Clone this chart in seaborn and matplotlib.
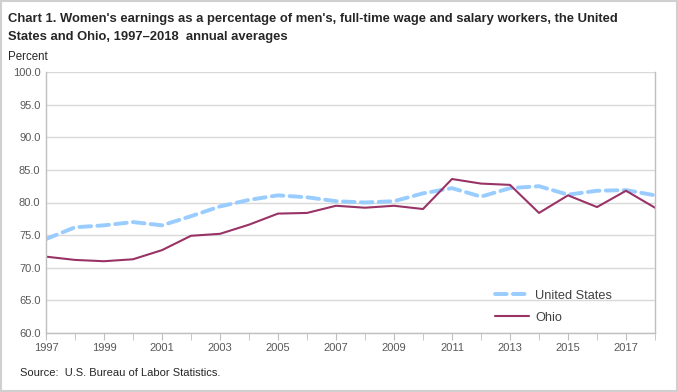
import matplotlib
matplotlib.use("Agg")
import matplotlib.pyplot as plt
import seaborn as sns
import pandas as pd
from matplotlib.patches import Rectangle

# datos (promedios anuales, %)
anios = list(range(1997, 2019))
estados_unidos = [74.4, 76.2, 76.5, 77.0, 76.5, 77.9, 79.4, 80.4, 81.1, 80.8, 80.2,
                  80.0, 80.2, 81.4, 82.2, 80.9, 82.2, 82.5, 81.2, 81.8, 81.9, 81.1]
ohio = [71.7, 71.2, 71.0, 71.3, 72.7, 74.9, 75.2, 76.6, 78.3, 78.4, 79.5,
        79.2, 79.5, 79.0, 83.6, 82.9, 82.7, 78.4, 81.1, 79.3, 81.8, 79.2]
series = ["United States", "Ohio"]
colores = {"United States": "#99CCFF", "Ohio": "#993366"}
y_ticks = [60, 65, 70, 75, 80, 85, 90, 95, 100]
x_labels = list(range(1997, 2019, 2))

df = pd.DataFrame({
    "anio": anios * 2,
    "valor": estados_unidos + ohio,
    "serie": [series[0]] * len(anios) + [series[1]] * len(anios),
})

sns.set_style("white")
plt.rcParams["font.family"] = ["Liberation Sans", "DejaVu Sans"]

fig = plt.figure(figsize=(6.78, 3.92), dpi=100)
ax = fig.add_axes([46 / 678, 59 / 392, 609 / 678, 261 / 392])

sns.lineplot(data=df, x="anio", y="valor", hue="serie", hue_order=series,
             palette=colores, ax=ax, legend=False, sort=False)
ax.lines[0].set_linewidth(2.8)
ax.lines[0].set_dashes((3, 1.6))
ax.lines[0].set_dash_capstyle("round")
ax.lines[1].set_linewidth(1.5)

ax.set_xlim(1997, 2018)
ax.set_ylim(60, 100)
ax.set_yticks(y_ticks)
ax.set_yticklabels([f"{v:.1f}" for v in y_ticks])
ax.set_xticks(anios, minor=True)
ax.set_xticks(x_labels)
ax.set_xticklabels([str(a) for a in x_labels])
ax.set_xlabel("")
ax.set_ylabel("")
ax.grid(axis="y", color="#D9D9D9", linewidth=1)
for s in ax.spines.values():
    s.set_color("#BFBFBF")
    s.set_linewidth(1)
ax.spines["top"].set_visible(False)
ax.tick_params(axis="y", length=0, labelsize=8, labelcolor="#595959", pad=4)
ax.tick_params(axis="x", which="both", length=5, color="#BFBFBF", labelsize=8,
               labelcolor="#595959", direction="out", bottom=True, pad=2)

# leyenda manual dentro del area
ax.plot([], [], color=colores["United States"], linewidth=2.8, dashes=(3, 1.6),
        dash_capstyle="round", label="United States")
ax.plot([], [], color=colores["Ohio"], linewidth=1.5, label="Ohio")
ax.legend(loc="upper left", bbox_to_anchor=(0.738, 0.166), frameon=False,
          borderpad=0, borderaxespad=0, handletextpad=0.5,
          fontsize=9.2, handlelength=2.6, labelspacing=0.8, labelcolor="#404040")

fig.text(8 / 678, 1 - 19 / 392,
         "Chart 1. Women's earnings as a percentage of men's, full-time wage and salary workers, the United",
         fontsize=9.4, fontweight="bold", va="center", ha="left")
fig.text(8 / 678, 1 - 37 / 392, "States and Ohio, 1997–2018  annual averages",
         fontsize=9.4, fontweight="bold", va="center", ha="left")
fig.text(8 / 678, 1 - 57 / 392, "Percent", fontsize=8.3, va="center", ha="left")
fig.text(20 / 678, 1 - 373 / 392, "Source:  U.S. Bureau of Labor Statistics.",
         fontsize=8, va="center", ha="left")

fig.patches.append(Rectangle((0.001, 0.002), 0.997, 0.996, transform=fig.transFigure,
                             fill=False, edgecolor="#D0D0D0", linewidth=1.5))

fig.savefig("out.png", dpi=100)
